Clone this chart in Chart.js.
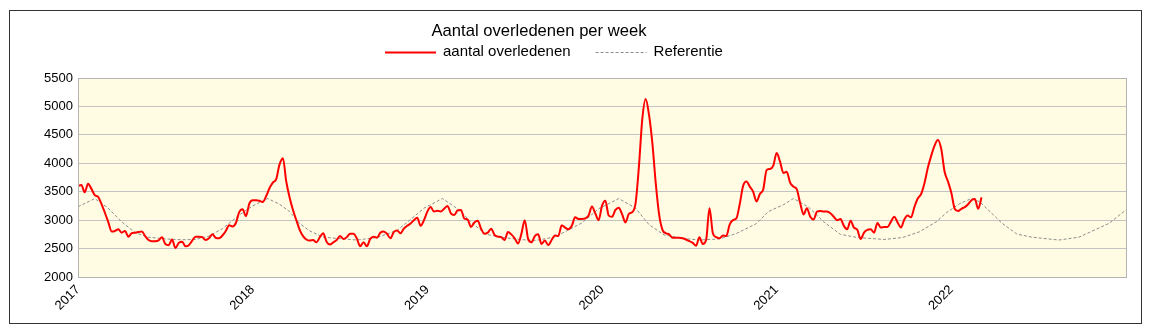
<!DOCTYPE html>
<html>
<head>
<meta charset="utf-8">
<script src="https://cdn.jsdelivr.net/npm/chart.js@4"></script>
<style>
  body { margin: 0; background: #fff; }
  #frame { position: absolute; left: 9px; top: 10px; width: 1131px; height: 312px; border: 1px solid #333; background: #fff; }
  #chart { display: block; }
</style>
</head>
<body>
<div id="frame"><canvas id="chart" width="1131" height="312"></canvas></div>
<script>
const chartTitle = 'Aantal overledenen per week';
const yearLabels = ['2017', '2018', '2019', '2020', '2021', '2022'];
const weeksPerYear = 52;

// weekly deaths, week 1 onward per year
const deaths2017 = [3600, 3620, 3490, 3640, 3550, 3440, 3410, 3280, 3130, 2970,
  2800, 2810, 2840, 2780, 2810, 2710, 2770, 2780, 2790, 2800,
  2720, 2650, 2630, 2630, 2645, 2700, 2580, 2560, 2660, 2510,
  2600, 2620, 2540, 2560, 2640, 2710, 2710, 2700, 2650, 2680,
  2750, 2690, 2680, 2730, 2810, 2910, 2890, 2950, 3140, 3190,
  3070, 3290];
const deaths2018 = [3350, 3350, 3340, 3320, 3420, 3560, 3660, 3720, 3980, 4090,
  3680, 3400, 3180, 3000, 2830, 2720, 2660, 2640, 2650, 2610,
  2700, 2770, 2620, 2570, 2610, 2650, 2720, 2670, 2700, 2760,
  2760, 2680, 2540, 2610, 2540, 2670, 2710, 2690, 2780, 2800,
  2760, 2680, 2790, 2820, 2770, 2850, 2900, 2940, 3000, 3040,
  2900, 3000];
const deaths2019 = [3150, 3230, 3150, 3165, 3150, 3200, 3250, 3120, 3090, 3170,
  3180, 3030, 3010, 2880, 2960, 2990, 2850, 2760, 2780, 2850,
  2740, 2710, 2700, 2650, 2790, 2750, 2680, 2590, 2760, 3000,
  2670, 2610, 2720, 2750, 2580, 2640, 2560, 2650, 2730, 2720,
  2910, 2870, 2840, 2900, 3050, 3020, 3020, 3030, 3080, 3240,
  3120, 3000];
const deaths2020 = [3250, 3340, 3080, 3060, 3180, 3220, 3100, 2960, 3110, 3140,
  3300, 3950, 4780, 5130, 4850, 4350, 3650, 3100, 2830, 2770,
  2750, 2690, 2690, 2690, 2680, 2660, 2630, 2600, 2550, 2700,
  2580, 2650, 3210, 2770, 2700, 2680, 2730, 2720, 2920, 3000,
  3030, 3280, 3600, 3680, 3590, 3500, 3330, 3460, 3540, 3880,
  3900, 3960];
const deaths2021 = [4180, 4030, 3830, 3850, 3660, 3590, 3540, 3300, 3100, 3210,
  3060, 3010, 3150, 3160, 3150, 3150, 3120, 3060, 3000, 3020,
  2900, 2840, 2990, 2870, 2830, 2670, 2780, 2830, 2840, 2780,
  2950, 2870, 2880, 2880, 2970, 3060, 2960, 2870, 3010, 3080,
  3050, 3230, 3380, 3460, 3650, 3920, 4130, 4310, 4410, 4250,
  3850, 3680];
const deaths2022 = [3480, 3200, 3160, 3200, 3230, 3280, 3350, 3370, 3200, 3400];

// reference line: week number (counted from 2017 week 1) and value at its bends
const refWeeks = [0, 5, 9, 13, 17, 21, 26, 31, 35, 39, 43, 48,
  52, 56.5, 60, 63, 66, 69, 73, 78, 83, 89, 95, 99,
  103, 108.5, 113.5, 117.5, 121.5, 126.5, 131.5, 136, 142, 150,
  155, 161, 166, 170, 174.5, 180, 185, 191, 196, 202,
  205.5, 210, 213, 217.5, 222, 227, 232, 240, 245.5, 250.5, 255.5,
  258.5, 262.5, 266, 268.5, 271.5, 275, 279.5, 284, 292, 298, 307, 312];
const refValues = [3235, 3380, 3210, 2970, 2780, 2700, 2670, 2655, 2660, 2720, 2850, 3090,
  3250, 3380, 3280, 3150, 2940, 2810, 2700, 2675, 2650, 2695, 2820, 3010,
  3210, 3380, 3180, 2940, 2750, 2695, 2660, 2640, 2705, 2950,
  3200, 3380, 3210, 2920, 2740, 2680, 2650, 2670, 2765, 2940,
  3150, 3270, 3380, 3230, 2970, 2750, 2695, 2660, 2695, 2795, 2970,
  3130, 3290, 3380, 3320, 3150, 2950, 2755, 2700, 2650, 2700, 2945, 3180];

const yMin = 2000, yMax = 5500, yStep = 500;

const deaths = [...deaths2017, ...deaths2018, ...deaths2019, ...deaths2020, ...deaths2021, ...deaths2022]
  .map((v, i) => ({ x: i, y: v }));
const reference = refWeeks.map((w, i) => ({ x: w, y: refValues[i] }));

const FONT = '"Liberation Sans", Arial, sans-serif';

// plot background + frame, then title and legend
const decor = {
  id: 'decor',
  beforeDraw(chart) {
    const { ctx, chartArea: a } = chart;
    ctx.save();
    ctx.fillStyle = '#fffce3';
    ctx.fillRect(a.left, a.top, a.right - a.left, a.bottom - a.top);
    ctx.restore();
  },
  afterDraw(chart) {
    const { ctx, chartArea: a } = chart;
    ctx.save();
    ctx.strokeStyle = '#b3b3b3';
    ctx.lineWidth = 1;
    ctx.strokeRect(Math.round(a.left) + 0.5, Math.round(a.top) + 0.5, Math.round(a.right - a.left), Math.round(a.bottom - a.top));

    ctx.fillStyle = '#000';
    ctx.font = '16.6px ' + FONT;
    ctx.textAlign = 'center';
    ctx.textBaseline = 'alphabetic';
    ctx.fillText(chartTitle, 529, 25);

    ctx.font = '15px ' + FONT;
    ctx.textAlign = 'left';
    ctx.textBaseline = 'middle';
    let x = 375;
    chart.data.datasets.forEach(ds => {
      ctx.strokeStyle = ds.borderColor;
      ctx.lineWidth = ds.borderWidth;
      ctx.setLineDash(ds.borderDash || []);
      ctx.beginPath();
      ctx.moveTo(x, 41.5);
      ctx.lineTo(x + 51, 41.5);
      ctx.stroke();
      ctx.setLineDash([]);
      ctx.fillText(ds.label, x + 58, 41);
      x += 58 + ctx.measureText(ds.label).width + 25;
    });
    ctx.restore();
  }
};

new Chart(document.getElementById('chart'), {
  type: 'line',
  data: {
    datasets: [{
      label: 'aantal overledenen',
      data: deaths,
      borderColor: '#ff0000',
      borderWidth: 2,
      pointRadius: 0,
      cubicInterpolationMode: 'monotone',
      fill: false
    }, {
      label: 'Referentie',
      data: reference,
      borderColor: '#8c8c8c',
      borderWidth: 1,
      borderDash: [3, 2],
      pointRadius: 0,
      tension: 0,
      fill: false
    }]
  },
  options: {
    responsive: false,
    animation: false,
    devicePixelRatio: 1,
    layout: { padding: { top: 67, right: 15, left: 0, bottom: 0 } },
    plugins: { legend: { display: false }, title: { display: false }, tooltip: { enabled: false } },
    scales: {
      x: {
        type: 'linear',
        min: 0,
        max: weeksPerYear * yearLabels.length,
        afterFit: s => { s.height = 46; },
        afterBuildTicks: s => {
          s.ticks = yearLabels.map((_, i) => ({ value: i * weeksPerYear }));
        },
        grid: { display: false, drawTicks: false },
        border: { display: false },
        ticks: {
          autoSkip: false,
          minRotation: 45,
          maxRotation: 45,
          padding: 5,
          color: '#000',
          font: { family: FONT, size: 13 },
          callback: v => yearLabels[Math.round(v / weeksPerYear)] || ''
        }
      },
      y: {
        min: yMin,
        max: yMax,
        afterFit: s => { s.width = 68; },
        grid: { color: '#c3c3c3', drawTicks: false },
        border: { display: false },
        ticks: {
          stepSize: yStep,
          padding: 5,
          color: '#000',
          font: { family: FONT, size: 13 },
          callback: v => String(v)
        }
      }
    }
  },
  plugins: [decor]
});
</script>
</body>
</html>
